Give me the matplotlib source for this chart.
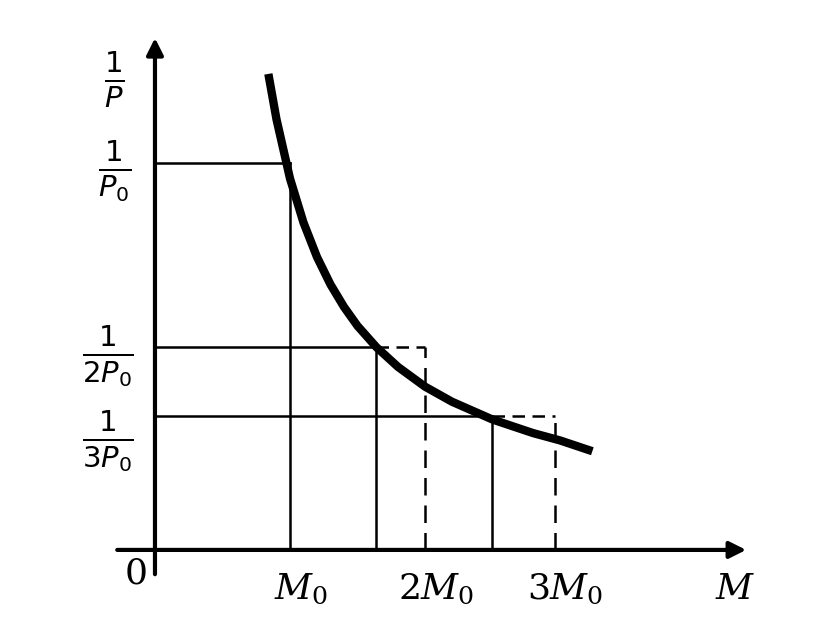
import matplotlib
matplotlib.use("Agg")
import matplotlib.pyplot as plt

# values (M in units of M0, 1/P in units of 1/P0)
curve_x = [0.84, 0.9, 1.0, 1.1, 1.2, 1.3, 1.4, 1.5, 1.64, 1.8, 2.0, 2.2, 2.5, 2.8, 3.0, 3.24]
curve_y = [1.23, 1.113, 0.96, 0.846, 0.757, 0.686, 0.628, 0.579, 0.524, 0.473, 0.422, 0.383, 0.337, 0.302, 0.283, 0.255]
levels = [1.0, 0.525, 0.345]
solid_x = [1.0, 1.64, 2.5]
dashed_x = [1.0, 2.0, 2.96]
x_ticks = [1.0, 2.0, 2.96]
x_labels = [r"$M_0$", r"$2M_0$", r"$3M_0$"]
y_labels = [r"$\frac{1}{P_0}$", r"$\frac{1}{2P_0}$", r"$\frac{1}{3P_0}$"]

plt.rcParams["mathtext.fontset"] = "dejavusans"
fig = plt.figure(figsize=(8.29, 6.25), dpi=100)
ax = fig.add_axes([0, 0, 1, 1])
ax.set_xlim(-1.148, 4.993)
ax.set_ylim(-0.194, 1.421)
ax.axis("off")

# axes with arrows
ax.annotate("", xy=(4.4, 0), xytext=(-0.3, 0),
            arrowprops=dict(arrowstyle="-|>", lw=3, color="black", mutation_scale=25))
ax.annotate("", xy=(0, 1.33), xytext=(0, -0.07),
            arrowprops=dict(arrowstyle="-|>", lw=3, color="black", mutation_scale=25))

# guide lines
for lv, sx, dx in zip(levels, solid_x, dashed_x):
    ax.plot([0, sx], [lv, lv], color="black", lw=1.8)
    ax.plot([sx, sx], [0, lv], color="black", lw=1.8)
    if dx > sx:
        ax.plot([sx, dx], [lv, lv], color="black", lw=1.8, ls=(0, (5, 3)))
        ax.plot([dx, dx], [0, lv], color="black", lw=1.8, ls=(0, (7, 4)))

ax.plot(curve_x, curve_y, color="black", lw=6, solid_capstyle="butt")

# text
ax.text(-0.14, -0.06, "0", fontsize=26, family="DejaVu Serif", ha="center", va="center")
for xt, lab in zip(x_ticks, x_labels):
    ax.text(xt + 0.08, -0.1, lab, fontsize=26, family="DejaVu Serif",
            math_fontfamily="dejaviserif" if False else "dejavuserif", ha="center", va="center")
ax.text(4.3, -0.1, r"$M$", fontsize=26, math_fontfamily="dejavuserif", ha="center", va="center")
ax.text(-0.3, 1.215, r"$\frac{1}{P}$", fontsize=30, ha="center", va="center")
ax.text(-0.3, 0.98, y_labels[0], fontsize=30, ha="center", va="center")
ax.text(-0.35, 0.5, y_labels[1], fontsize=30, ha="center", va="center")
ax.text(-0.35, 0.28, y_labels[2], fontsize=30, ha="center", va="center")

fig.savefig("out.png", dpi=100)
